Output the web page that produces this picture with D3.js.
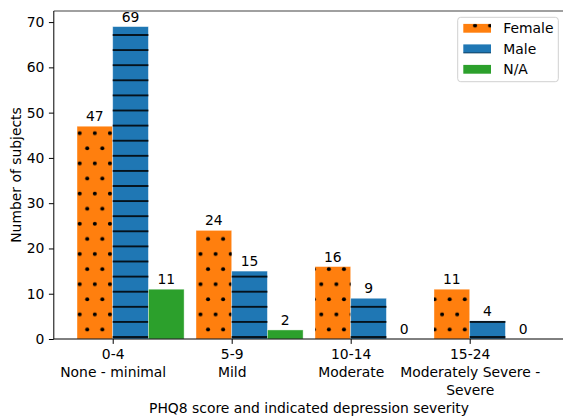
<!DOCTYPE html>
<html>
<head>
<meta charset="utf-8">
<script src="https://cdn.jsdelivr.net/npm/d3@7"></script>
<style>
  body { margin: 0; background: #fff; }
  text { font-family: 'DejaVu Sans', sans-serif; fill: #000; }
</style>
</head>
<body>
<div id="chart"></div>
<script>
// data
const categories = ['0-4\nNone - minimal', '5-9\nMild', '10-14\nModerate', '15-24\nModerately Severe -\nSevere']
const seriesNames = ['Female', 'Male', 'N/A']
const female = [47, 24, 16, 11]
const male = [69, 15, 9, 4]
const na = [11, 2, 0, 0]
const yTicks = [0, 10, 20, 30, 40, 50, 60, 70]

const colors = {Female: '#ff7f0e', Male: '#1f77b4', 'N/A': '#2ca02c'}
const hatches = {Female: 'url(#dots)', Male: 'url(#hlines)', 'N/A': null}

const width = 563
const height = 417
const margin = {top: 11, left: 53.8, bottom: 78}
const barW = 0.3
const fontSize = 13.9

const svg = d3.select('#chart').append('svg')
  .attr('width', width)
  .attr('height', height)

// bars at i-0.15, i+0.15, i+0.45 with 5% margins like matplotlib
const xMin = -0.3 - 0.05 * 3.9
const xMax = 3.6 + 0.05 * 3.9
const x = d3.scaleLinear().domain([xMin, xMax]).range([margin.left, 564.3])
const yMax = 69 * 1.05
const y = d3.scaleLinear().domain([0, yMax]).range([height - margin.bottom, margin.top])

const rows = seriesNames.map((name, s) => {
  const vals = [female, male, na][s]
  return vals.map((v, i) => ({name, i, v, left: i - barW + s * barW}))
})

// hatch patterns, anchored in figure space like Agg does it
const defs = svg.append('defs')
const step = 15.1
const dotX = x(-0.3) + 2.7
const dotY = y(0) - 9.5 - step
const dots = defs.append('pattern')
  .attr('id', 'dots')
  .attr('patternUnits', 'userSpaceOnUse')
  .attr('width', step)
  .attr('height', step * 2)
  .attr('x', dotX - step / 4)
  .attr('y', dotY - step / 2)
dots.append('circle').attr('cx', step / 4).attr('cy', step / 2).attr('r', 2).attr('fill', '#000')
dots.append('circle').attr('cx', step * 3 / 4).attr('cy', step * 3 / 2).attr('r', 2).attr('fill', '#000')

const hl = defs.append('pattern')
  .attr('id', 'hlines')
  .attr('patternUnits', 'userSpaceOnUse')
  .attr('width', 20)
  .attr('height', step)
  .attr('x', 0)
  .attr('y', y(0) - 2 - step / 2)
hl.append('line')
  .attr('x1', 0).attr('x2', 20)
  .attr('y1', step / 2).attr('y2', step / 2)
  .attr('stroke', '#000')
  .attr('stroke-width', 1.6)

// bars
const g = svg.append('g')
rows.forEach(series => {
  const bars = g.selectAll(null).data(series).enter()
  bars.append('rect')
    .attr('x', d => x(d.left))
    .attr('y', d => y(d.v))
    .attr('width', d => x(d.left + barW) - x(d.left))
    .attr('height', d => y(0) - y(d.v))
    .attr('fill', d => colors[d.name])
    .attr('stroke', 'rgba(255,255,255,0.5)')
    .attr('stroke-width', 0.8)
  if (hatches[series[0].name]) {
    bars.append('rect')
      .attr('x', d => x(d.left))
      .attr('y', d => y(d.v))
      .attr('width', d => x(d.left + barW) - x(d.left))
      .attr('height', d => y(0) - y(d.v))
      .attr('fill', hatches[series[0].name])
  }
  bars.append('text')
    .attr('x', d => x(d.left + barW / 2))
    .attr('y', d => y(d.v) - 5)
    .attr('text-anchor', 'middle')
    .style('font-size', fontSize + 'px')
    .text(d => d.v)
})

// spines
svg.append('line')
  .attr('x1', x(xMin)).attr('x2', width)
  .attr('y1', y(yMax)).attr('y2', y(yMax))
  .attr('stroke', '#808080').attr('stroke-width', 1.5)

// y axis
const yAxis = svg.append('g')
  .attr('transform', `translate(${x(xMin)},0)`)
  .call(d3.axisLeft(y).tickValues(yTicks).tickSize(4.9).tickPadding(4.5))
yAxis.select('.domain').attr('stroke', '#000').attr('d', `M0,${y(0)}V${y(yMax)}`)
yAxis.selectAll('text').style('font-size', fontSize + 'px').attr('fill', '#000')
  .style('font-family', "'DejaVu Sans', sans-serif")

// x axis
const xAxis = svg.append('g')
  .attr('transform', `translate(0,${y(0)})`)
  .call(d3.axisBottom(x).tickValues(d3.range(categories.length)).tickSize(4.9).tickFormat(''))
xAxis.select('.domain').attr('stroke', '#000').attr('d', `M${x(xMin)},0H${width}`)

const xLab = xAxis.selectAll('.tick').append('text')
  .attr('text-anchor', 'middle')
  .style('font-size', fontSize + 'px')
  .style('font-family', "'DejaVu Sans', sans-serif")
  .attr('fill', '#000')
xLab.each(function (d) {
  const lines = categories[d].split('\n')
  d3.select(this).selectAll('tspan').data(lines).enter().append('tspan')
    .attr('x', 0)
    .attr('y', (l, k) => 20 + k * 18)
    .text(l => l)
})

svg.append('text')
  .attr('x', (x(xMin) + 564.3) / 2)
  .attr('y', 413)
  .attr('text-anchor', 'middle')
  .style('font-size', fontSize + 'px')
  .text('PHQ8 score and indicated depression severity')

svg.append('text')
  .attr('transform', `translate(21,${(y(0) + y(yMax)) / 2}) rotate(-90)`)
  .attr('text-anchor', 'middle')
  .style('font-size', fontSize + 'px')
  .text('Number of subjects')

// legend
const lg = svg.append('g').attr('transform', 'translate(457.7,17.3)')
lg.append('rect')
  .attr('width', 100.6).attr('height', 64.4)
  .attr('rx', 3)
  .attr('fill', 'rgba(255,255,255,0.8)')
  .attr('stroke', '#d0d0d0')
const items = lg.selectAll('.item').data(seriesNames).enter().append('g')
  .attr('class', 'item')
  .attr('transform', (d, i) => `translate(5.6,${11 + i * 20.5})`)
items.append('rect')
  .attr('y', -4.4).attr('width', 27.7).attr('height', 8.8)
  .attr('fill', d => colors[d])
items.filter(d => hatches[d]).append('rect')
  .attr('y', -4.4).attr('width', 27.7).attr('height', 8.8)
  .attr('fill', d => hatches[d])
items.append('text')
  .attr('x', 40)
  .attr('dy', '0.36em')
  .style('font-size', fontSize + 'px')
  .text(d => d)
</script>
</body>
</html>
